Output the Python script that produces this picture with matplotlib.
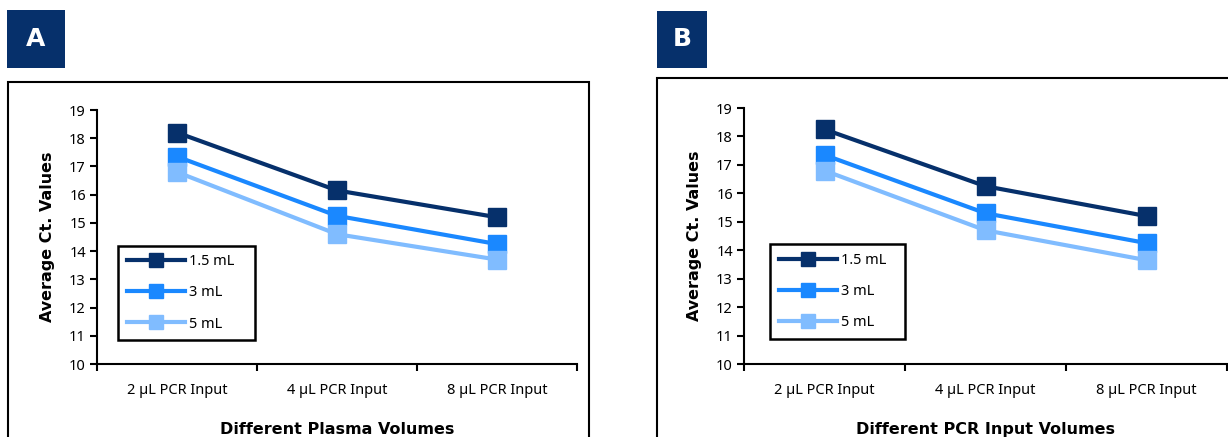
import matplotlib
matplotlib.use("Agg")
import matplotlib.pyplot as plt
from matplotlib.patches import Rectangle

categories = ["2 µL PCR Input", "4 µL PCR Input", "8 µL PCR Input"]
series_names = ["1.5 mL", "3 mL", "5 mL"]
colors = ["#06306b", "#1a88ff", "#80bcff"]

# panel A: plasma volumes
a_15 = [18.2, 16.15, 15.2]
a_3 = [17.35, 15.25, 14.25]
a_5 = [16.8, 14.6, 13.7]

# panel B: PCR input volumes
b_15 = [18.25, 16.25, 15.2]
b_3 = [17.35, 15.3, 14.25]
b_5 = [16.8, 14.7, 13.65]

W, H = 1228, 437
fig = plt.figure(figsize=(W / 100, H / 100), dpi=100)
plt.rcParams["font.family"] = ["Noto Sans", "DejaVu Sans"]


def px_rect(x0, y0, x1, y1):
    return [x0 / W, 1 - y1 / H, (x1 - x0) / W, (y1 - y0) / H]


def panel(box, frame, label_box, letter, series, xlabel, legend_box):
    # outer frame
    r = px_rect(*frame)
    fig.patches.append(Rectangle((r[0], r[1]), r[2], r[3], transform=fig.transFigure,
                                 fill=False, edgecolor="black", linewidth=1.5))
    # letter box
    lr = px_rect(*label_box)
    fig.patches.append(Rectangle((lr[0], lr[1]), lr[2], lr[3], transform=fig.transFigure,
                                 facecolor="#06306b", edgecolor="none"))
    fig.text(lr[0] + lr[2] / 2, lr[1] + lr[3] / 2, letter, color="white",
             fontsize=18, fontweight="bold", ha="center", va="center",
             family="DejaVu Sans")

    ax = fig.add_axes(px_rect(*box))
    x = range(len(categories))
    for vals, name, c in zip(series, series_names, colors):
        ax.plot(x, vals, color=c, lw=3, marker="s", ms=13, label=name)

    ax.set_ylim(10, 19)
    ax.set_yticks(range(10, 20))
    ax.set_xlim(-0.5, len(categories) - 0.5)
    ax.set_xticks(list(x))
    ax.set_xticklabels(categories, fontsize=10.5)
    ax.set_xticks([i - 0.5 for i in range(len(categories) + 1)], minor=True)
    ax.tick_params(axis="x", which="major", length=0, pad=14)
    ax.tick_params(axis="x", which="minor", length=5, width=1.5, direction="out")
    ax.tick_params(axis="y", length=5, width=1.5, labelsize=10.5, pad=3)
    for s in ["top", "right"]:
        ax.spines[s].set_visible(False)
    for s in ["left", "bottom"]:
        ax.spines[s].set_linewidth(1.5)
    ax.set_ylabel("Average Ct. Values", fontsize=11.5, fontweight="bold",
                  family="DejaVu Sans", labelpad=10)
    ax.set_xlabel(xlabel, fontsize=11.5, fontweight="bold",
                  family="DejaVu Sans", labelpad=17)

    lx0, ly0, lx1, ly1 = legend_box
    bx0, by0, bx1, by1 = box
    anchor = ((lx0 - bx0) / (bx1 - bx0), (by1 - ly1) / (by1 - by0),
              (lx1 - lx0) / (bx1 - bx0), (ly1 - ly0) / (by1 - by0))
    leg = ax.legend(loc="center", bbox_to_anchor=anchor, mode="expand",
                    fancybox=False, edgecolor="black", framealpha=1, fontsize=10.5,
                    handlelength=4.0, markerscale=0.75, labelspacing=1.1,
                    borderpad=0.6, handletextpad=0.3, borderaxespad=0)
    leg.get_frame().set_linewidth(1.8)
    return ax


panel((97, 110, 577, 364), (8, 82, 589, 445), (7, 10, 65, 68), "A",
      [a_15, a_3, a_5], "Different Plasma Volumes", (118, 244, 255, 342))
panel((744, 108, 1227, 364), (657, 78, 1240, 445), (657, 11, 707, 68), "B",
      [b_15, b_3, b_5], "Different PCR Input Volumes", (770, 243, 905, 340))

fig.savefig("out.png", dpi=100)
